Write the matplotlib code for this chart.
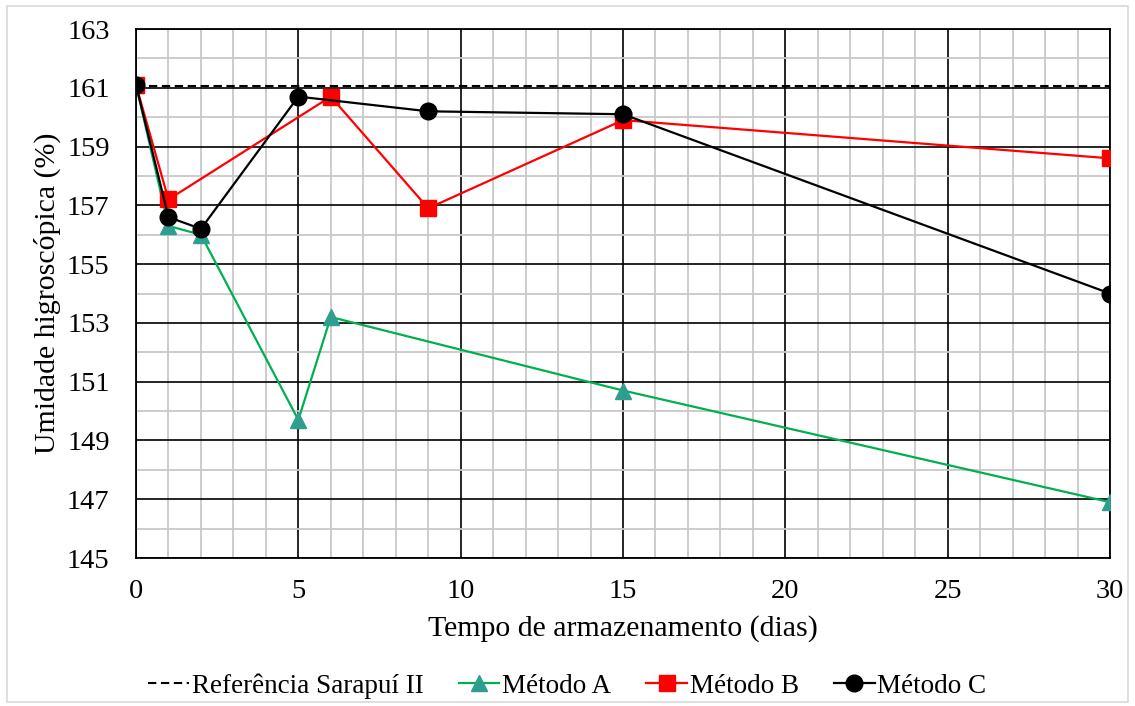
import numpy as np
import matplotlib.pyplot as plt
from matplotlib.ticker import MultipleLocator
from matplotlib.patches import Rectangle

plt.rcParams['font.family'] = ['Liberation Serif', 'DejaVu Serif']

# data
ref_value = 161.06

dias_a = [0, 1, 2, 5, 6, 15, 30]
metodo_a = [161.1, 156.3, 156.0, 149.7, 153.2, 150.7, 146.9]

dias_b = [0, 1, 6, 9, 15, 30]
metodo_b = [161.1, 157.2, 160.7, 156.9, 159.9, 158.6]

dias_c = [0, 1, 2, 5, 9, 15, 30]
metodo_c = [161.1, 156.6, 156.2, 160.7, 160.2, 160.1, 154.0]

fig = plt.figure(figsize=(11.35, 7.06), dpi=100)
ax = fig.add_axes([0.1198, 0.2096, 0.978 - 0.1198, 0.9589 - 0.2096])

# light border around the whole figure
fig.patches.append(Rectangle((0.006, 0.006), 0.988, 0.986, transform=fig.transFigure,
                             fill=False, edgecolor='#d9d9d9', linewidth=1.2))

ax.plot([0, 30], [ref_value, ref_value], color='black', lw=1.5, dashes=(4, 2.2),
        label='Referência Sarapuí II', zorder=3)
ax.plot(dias_a, metodo_a, '-', color='#00B050', lw=1.6, marker='^', markersize=11.5,
        markerfacecolor='#2E9E8F', markeredgecolor='#2E9E8F', label='Método A', zorder=4)
ax.plot(dias_b, metodo_b, '-', color='#FF0000', lw=1.6, marker='s', markersize=11.5,
        markerfacecolor='#FF0000', markeredgecolor='#FF0000', label='Método B', zorder=5)
ax.plot(dias_c, metodo_c, '-', color='black', lw=1.6, marker='o', markersize=12,
        label='Método C', zorder=6)

ax.set_xlim(0, 30)
ax.set_ylim(145, 163)
ax.xaxis.set_major_locator(MultipleLocator(5))
ax.xaxis.set_minor_locator(MultipleLocator(1))
ax.yaxis.set_minor_locator(MultipleLocator(1))
ax.set_yticks(np.arange(145, 164, 2))

ax.grid(which='minor', color='#c8c8c8', lw=1.3, zorder=0)
ax.grid(which='major', color='black', lw=1.2, zorder=1)
ax.set_axisbelow(True)
ax.tick_params(which='both', length=0, labelsize=20.5)
ax.tick_params(axis='x', pad=15)
ax.tick_params(axis='y', pad=19)
for s in ax.spines.values():
    s.set_linewidth(1.3)

ax.set_xlabel('Tempo de armazenamento (dias)', fontsize=21.5, labelpad=8)
ax.set_ylabel('Umidade higroscópica (%)', fontsize=21.5, labelpad=4)

fig.legend(loc='center', bbox_to_anchor=(0.5, 1 - 686 / 706), ncol=4, frameon=False,
           fontsize=19.5, handlelength=1.5, handletextpad=0.1, columnspacing=1.3)

fig.savefig('out.png', dpi=100)
